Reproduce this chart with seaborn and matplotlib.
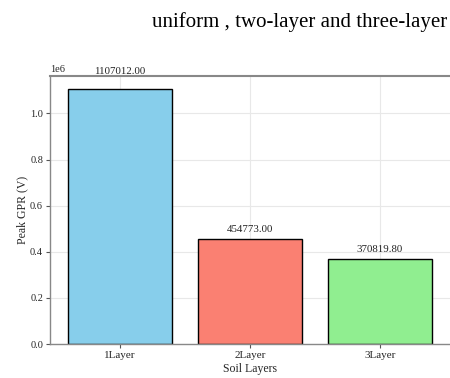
import matplotlib
matplotlib.use("Agg")
import matplotlib.pyplot as plt
import seaborn as sns
import pandas as pd

layers = ["1Layer", "2Layer", "3Layer"]
peak_gpr = [1107012.00, 454773.00, 370819.80]
bar_colors = ["#87CEEB", "#FA8072", "#90EE90"]

sns.set_theme(style="whitegrid")
plt.rcParams["font.family"] = ["Liberation Serif", "DejaVu Serif"]

df = pd.DataFrame({"layer": layers, "gpr": peak_gpr})

fig = plt.figure(figsize=(4.5, 3.78), dpi=100)
ax = fig.add_axes([50 / 450, 1 - 344 / 378, 400 / 450, (344 - 76) / 378])

sns.barplot(data=df, x="layer", y="gpr", hue="layer", palette=bar_colors,
            edgecolor="black", linewidth=1.0, width=0.8, legend=False, ax=ax,
            saturation=1)

ax.set_xlim(-0.54, 2.54)
ax.set_ylim(0, max(peak_gpr) * 1.05)

# value labels sit a little above each bar, proportional to its height
for i, v in enumerate(peak_gpr):
    ax.text(i, v * 1.05, f"{v:.2f}", ha="center", va="bottom",
            fontsize=7.8, color="#222222")

ax.set_xlabel("Soil Layers", fontsize=8.5, labelpad=2)
ax.set_ylabel("Peak GPR (V)", fontsize=8.5, labelpad=1.5)
ax.tick_params(axis="x", labelsize=8)
ax.tick_params(axis="y", labelsize=7.5)
ax.tick_params(axis="both", length=3, width=0.8, color="#555555",
               left=True, bottom=True, pad=2)
ax.yaxis.get_offset_text().set_fontsize(7.5)
ax.grid(True, color="#e8e8e8", linewidth=0.8)

for side in ["left", "bottom", "top"]:
    ax.spines[side].set_color("#888888")
    ax.spines[side].set_linewidth(1.0)
ax.spines["top"].set_linewidth(1.5)
ax.spines["right"].set_visible(False)

fig.text(152 / 450, 1 - 22 / 378, "uniform , two-layer and three-layer",
         fontsize=15, ha="left", va="center", color="black")

fig.savefig("out.png", dpi=100)
